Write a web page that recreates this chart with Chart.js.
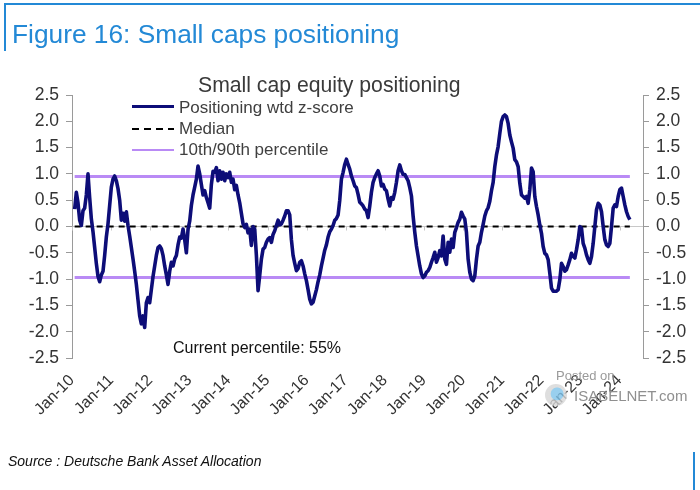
<!DOCTYPE html>
<html>
<head>
<meta charset="utf-8">
<script src="https://cdn.jsdelivr.net/npm/chart.js@4.4.0/dist/chart.umd.min.js"></script>
<style>
  body { margin: 0; background: #fff; }
  #wrap { position: relative; width: 700px; height: 490px; overflow: hidden;
          font-family: "Liberation Sans", Arial, sans-serif; color: #333; }
  #chart { position: absolute; left: 0; top: 0; }
  .abs { position: absolute; white-space: nowrap; line-height: 1; }
  .blue { background: #2389d6; }
  #figTitle { left: 12px; top: 21px; font-size: 26.3px; color: #2389d6; }
  #chartTitle { left: 198px; top: 74px; font-size: 21.2px; color: #3a3a3a; }
  .legText { left: 179px; font-size: 17px; color: #3f3f3f; }
  .legLine { left: 132px; width: 42px; }
  #current { left: 173px; top: 340px; font-size: 16px; color: #111; }
  #posted { left: 556px; top: 369px; font-size: 13px; color: #9a9a9a; }
  #isabel { left: 574px; top: 388px; font-size: 15px; color: #8f8f8f; }
  #logo { left: 545px; top: 384px; width: 22px; height: 22px; border-radius: 50%;
          background: radial-gradient(circle at 55% 45%, #7fc3ea 0 35%, #d6d6d6 40% 100%); opacity: .8; }
  #source { left: 8px; top: 454px; font-size: 14px; font-style: italic; color: #111; }
</style>
</head>
<body>
<div id="wrap">
  <canvas id="chart" width="700" height="490"></canvas>
  <div class="abs blue" style="left:5px;top:3px;width:695px;height:2px"></div>
  <div class="abs blue" style="left:4px;top:3px;width:2px;height:48px"></div>
  <div class="abs blue" style="left:693px;top:452px;width:2px;height:38px"></div>
  <div class="abs" id="figTitle">Figure 16: Small caps positioning</div>
  <div class="abs" id="chartTitle">Small cap equity positioning</div>
  <div class="abs legLine" style="top:105px;height:3px;background:#0d0d78"></div>
  <div class="abs legText" style="top:99px">Positioning wtd z-score</div>
  <div class="abs legLine" style="top:128px;height:2px;background:repeating-linear-gradient(to right,#000 0 7px,transparent 7px 12px)"></div>
  <div class="abs legText" style="top:120px">Median</div>
  <div class="abs legLine" style="top:149px;height:2px;background:#b98af5"></div>
  <div class="abs legText" style="top:141px">10th/90th percentile</div>
  <div class="abs" id="current">Current percentile: 55%</div>
  <div class="abs" id="logo"></div>
  <div class="abs" id="posted">Posted on</div>
  <div class="abs" id="isabel">ISABELNET.com</div>
  <div class="abs" id="source">Source : Deutsche Bank Asset Allocation</div>
</div>
<script>
// x axis tick labels, one per January
const xTickLabels = ['Jan-10', 'Jan-11', 'Jan-12', 'Jan-13', 'Jan-14', 'Jan-15', 'Jan-16',
  'Jan-17', 'Jan-18', 'Jan-19', 'Jan-20', 'Jan-21', 'Jan-22', 'Jan-23', 'Jan-24'];
const firstYear = 2010;

// readings are roughly twice a month, from early Jan-10 to spring 2024
const startYear = 2010.068;
const stepYears = 0.04263;

// positioning wtd z-score
const zScore = [
  0.33, 0.65, 0.45, 0.12, 0.02, 0.3, 0.35, 0.6, 1.0, 0.55,
  0.15, -0.1, -0.4, -0.7, -0.95, -1.05, -0.92, -0.85, -0.55, -0.2,
  0.05, 0.4, 0.75, 0.9, 0.96, 0.87, 0.72, 0.5, 0.12, 0.25,
  0.1, 0.28, 0.02, -0.18, -0.4, -0.62, -0.85, -1.1, -1.4, -1.7,
  -1.85, -1.7, -1.92, -1.45, -1.35, -1.45, -1.2, -0.95, -0.75, -0.55,
  -0.4, -0.37, -0.42, -0.55, -0.75, -0.92, -1.1, -0.85, -0.68, -0.75,
  -0.62, -0.55, -0.35, -0.2, -0.22, -0.05, -0.25, -0.5, -0.05, 0.1,
  0.4, 0.6, 0.75, 0.9, 1.15, 1.0, 0.8, 0.6, 0.68, 0.55,
  0.45, 0.35, 0.8, 1.05,
  1.03, 1.12, 0.87, 1.06, 0.9, 1.03, 0.87, 1.0, 0.93, 1.03,
  0.84, 0.9, 0.7, 0.78, 0.6, 0.45, 0.25, 0.05, -0.02, 0.04,
  -0.12, -0.05, -0.36, 0.0, -0.05, -0.55, -1.22, -0.93, -0.62, -0.43,
  -0.4, -0.3, -0.24, -0.21, -0.3, -0.15, -0.08, 0.02, 0.12, 0.03,
  0.05, 0.12, 0.2, 0.3, 0.3, 0.22, -0.25, -0.55, -0.7, -0.84,
  -0.8, -0.68, -0.65, -0.75, -0.9, -1.03, -1.2, -1.38, -1.47, -1.44,
  -1.32, -1.2, -1.05, -0.92, -0.75, -0.6, -0.45, -0.35, -0.2, -0.1,
  -0.05, 0.02, 0.12, 0.15, 0.22, 0.5, 0.9, 1.03, 1.18, 1.28,
  1.18, 1.09, 0.96, 0.87,
  0.77, 0.74, 0.61, 0.46, 0.43, 0.39, 0.33, 0.3, 0.17, 0.39,
  0.65, 0.84, 0.93, 1.0, 1.06, 0.96, 0.77, 0.8, 0.71, 0.68,
  0.52, 0.39, 0.55, 0.52, 0.65, 0.84, 1.06, 1.17, 1.06, 0.99,
  0.99, 0.93, 0.87, 0.74, 0.58, 0.2, -0.11, -0.37, -0.56, -0.75,
  -0.9, -0.97, -0.94, -0.87, -0.84, -0.78, -0.68, -0.59, -0.49, -0.68,
  -0.59, -0.46, -0.56, -0.18, -0.62, -0.72, -0.3, -0.49, -0.24, -0.4,
  -0.11, -0.02, 0.08, 0.14, 0.27, 0.2, 0.14, -0.11, -0.62, -0.87,
  -1.0, -1.03, -0.94, -0.62, -0.37, -0.3, -0.11, 0.04, 0.2, 0.3,
  0.36, 0.48, 0.68, 0.84,
  1.14, 1.36, 1.52, 1.77, 2.0, 2.09, 2.12, 2.09, 1.96, 1.74,
  1.61, 1.49, 1.27, 1.23, 1.14, 0.82, 0.6, 0.57, 0.54, 0.57,
  0.44, 0.7, 1.11, 1.04, 0.57, 0.38, 0.22, 0.03, -0.13, -0.38,
  -0.51, -0.54, -0.63, -0.89, -1.17, -1.23, -1.23, -1.23, -1.2, -1.01,
  -0.7, -0.76, -0.85, -0.82, -0.73, -0.63, -0.51, -0.57, -0.6, -0.44,
  -0.25, 0.0, -0.03, -0.32, -0.41, -0.54, -0.63, -0.7, -0.57, -0.32,
  0.0, 0.32, 0.44, 0.41, 0.28, 0.0, -0.25, -0.35, -0.38, -0.32,
  0.0, 0.35, 0.41, 0.38, 0.57, 0.7, 0.73, 0.57, 0.41, 0.28,
  0.19, 0.13
];

// reference levels
const medianLevel = 0.0;
const p10Level = -0.97;
const p90Level = 0.95;

const xEnd = startYear + (zScore.length - 1) * stepYears;
const flat = level => [{x: startYear, y: level}, {x: xEnd, y: level}];

// small tick marks hanging off the zero line, one per year
const zeroTicks = {
  id: 'zeroTicks',
  beforeDatasetsDraw(chart) {
    const {ctx, scales: {x, y}} = chart;
    const y0 = y.getPixelForValue(0);
    ctx.save();
    ctx.strokeStyle = '#c8c8c8';
    ctx.lineWidth = 1;
    xTickLabels.forEach((_, k) => {
      const px = Math.round(x.getPixelForValue(firstYear + k)) + 0.5;
      ctx.beginPath();
      ctx.moveTo(px, y0);
      ctx.lineTo(px, y0 + 4);
      ctx.stroke();
    });
    ctx.restore();
  }
};

const yTicks = {
  min: -2.5, max: 2.5,
  ticks: {stepSize: 0.5, callback: v => v.toFixed(1), font: {size: 17.5, family: 'Liberation Sans'}, color: '#333', padding: 7},
  grid: {drawOnChartArea: false, tickLength: 6, tickColor: '#9a9a9a'},
  border: {color: '#9a9a9a', width: 1}
};

new Chart(document.getElementById('chart'), {
  type: 'line',
  data: {
    datasets: [
      {label: 'Positioning wtd z-score', data: zScore.map((v, i) => ({x: startYear + i * stepYears, y: v})),
       borderColor: '#0d0d78', borderWidth: 3.6, pointRadius: 0, borderJoinStyle: 'round'},
      {label: 'Median', data: flat(medianLevel), borderColor: '#000', borderWidth: 2, borderDash: [6, 5], pointRadius: 0},
      {label: '10th percentile', data: flat(p10Level), borderColor: '#b98af5', borderWidth: 3, pointRadius: 0},
      {label: '90th percentile', data: flat(p90Level), borderColor: '#b98af5', borderWidth: 3, pointRadius: 0}
    ]
  },
  options: {
    responsive: false,
    animation: false,
    layout: {padding: {top: 95, left: 0, right: 0, bottom: 0}},
    plugins: {legend: {display: false}, tooltip: {enabled: false}},
    scales: {
      x: {
        type: 'linear', min: firstYear, max: 2024.6,
        afterBuildTicks: s => { s.ticks = xTickLabels.map((_, k) => ({value: firstYear + k})); },
        ticks: {callback: (v, i) => xTickLabels[i], minRotation: 45, maxRotation: 45, autoSkip: false,
                font: {size: 16, family: 'Liberation Sans'}, color: '#333', padding: 13},
        grid: {display: false, drawTicks: false},
        border: {display: false},
        afterFit: s => { s.height = 132; }
      },
      y: Object.assign({position: 'left', afterFit: s => { s.width = 72; }}, yTicks,
        {grid: {drawOnChartArea: true, tickLength: 6, tickColor: '#9a9a9a',
                color: c => c.tick && c.tick.value === 0 ? '#c8c8c8' : 'rgba(0,0,0,0)'}}),
      y2: Object.assign({position: 'right', afterFit: s => { s.width = 57; }}, yTicks)
    }
  },
  plugins: [zeroTicks]
});
</script>
</body>
</html>
